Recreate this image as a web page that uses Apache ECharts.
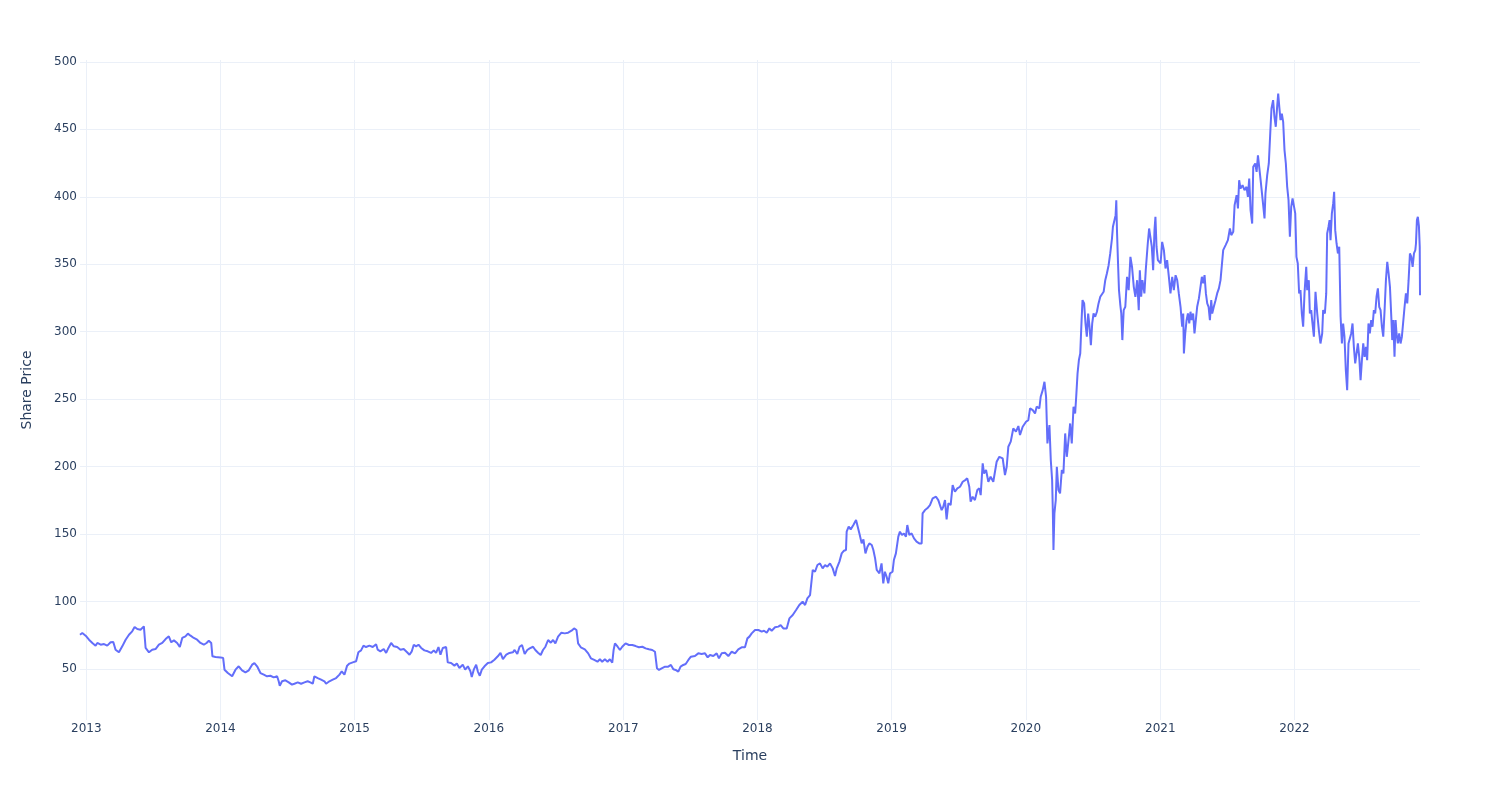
<!DOCTYPE html>
<html><head><meta charset="utf-8">
<script src="https://cdn.jsdelivr.net/npm/echarts@6/dist/echarts.min.js"></script>
<style>html,body{margin:0;padding:0;background:#fff}#chart{width:1500px;height:800px}</style>
</head><body><div id="chart"></div>
<script>
// Dates as decimal years, prices
const timeA = [2012.953,2012.970,2012.995,2013.020,2013.045,2013.069,2013.082,2013.107,2013.132,2013.156,2013.181,2013.201,2013.218,2013.243,2013.268,2013.293,2013.318,2013.342,2013.360,2013.380,2013.404,2013.429,2013.437,2013.442,2013.467,2013.491,2013.516,2013.541,2013.566,2013.591,2013.615,2013.633,2013.653,2013.677,2013.697,2013.715,2013.739,2013.757,2013.777,2013.801,2013.826,2013.851,2013.876,2013.896,2013.913,2013.931,2013.940,2013.963,2014.000,2014.020,2014.030,2014.055,2014.087,2014.112,2014.136,2014.161,2014.186,2014.211,2014.236,2014.253,2014.273,2014.298,2014.323,2014.347,2014.372,2014.397,2014.422,2014.434,2014.442,2014.459,2014.484,2014.509,2014.533,
2014.551,2014.576,2014.601,2014.626,2014.650,2014.670,2014.688,2014.700,2014.725,2014.750,2014.775,2014.787,2014.812,2014.837,2014.862,2014.887,2014.904,2014.924,2014.944,2014.961,2014.986,2015.011,2015.028,2015.048,2015.066,2015.085,2015.110,2015.135,2015.160,2015.172,2015.192,2015.217,2015.235,2015.252,2015.272,2015.292,2015.317,2015.342,2015.366,2015.391,2015.409,2015.426,2015.441,2015.458,2015.476,2015.496,2015.520,2015.545,2015.570,2015.590,2015.607,2015.625,2015.640,2015.657,2015.682,2015.694,2015.719,2015.744,2015.762,2015.781,2015.806,2015.824,2015.844,2015.863,2015.873,2015.888,2015.906,2015.918,2015.933,2015.948,2015.968,2015.993,2016.017,2016.042,2016.067,2016.087,2016.105,2016.130,2016.154,2016.179,
2016.192,2016.212,2016.229,2016.247,2016.267,2016.286,2016.304,2016.329,2016.346,2016.366,2016.386,2016.403,2016.421,2016.441,2016.461,2016.478,2016.495,2016.515,2016.540,2016.565,2016.590,2016.615,2016.634,2016.652,2016.664,2016.684,2016.714,2016.739,2016.759,2016.784,2016.808,2016.826,2016.843,2016.863,2016.883,2016.900,2016.918,2016.928,2016.938,2016.958,2016.975,2016.992];
const priceA = [75.4,76.7,74.7,71.7,69.3,67.3,69.3,68.0,68.5,67.3,69.8,70.0,64.3,62.4,66.8,71.7,75.4,77.9,81.1,79.6,79.1,81.6,82.3,65.6,62.4,64.3,64.8,68.0,69.3,72.2,74.2,69.8,71.2,69.3,66.3,73.0,74.2,76.2,74.7,73.0,71.7,69.3,68.0,69.3,71.0,69.3,59.4,58.9,58.6,58.1,49.5,47.0,44.6,49.5,52.0,49.0,47.5,49.0,53.2,54.4,52.0,47.0,45.8,44.6,45.0,43.8,44.6,40.9,37.6,40.9,41.6,40.1,38.4,
39.1,40.1,39.1,40.1,40.9,40.1,39.1,44.6,43.3,42.1,40.9,39.1,40.9,42.1,43.3,45.8,48.3,45.8,52.5,54.0,54.9,55.7,62.4,63.8,67.3,66.3,67.3,66.3,68.3,64.3,63.1,64.8,61.9,65.6,69.3,66.8,66.3,64.3,64.8,62.4,60.6,63.1,68.0,66.8,68.0,65.6,63.8,63.1,61.9,63.8,61.9,66.3,60.6,65.6,66.3,54.9,54.4,52.5,54.0,50.7,53.2,49.5,52.0,48.3,44.1,49.5,53.2,48.3,45.0,49.5,52.0,54.4,54.9,56.9,59.4,61.9,57.4,60.6,61.9,62.4,
64.1,61.1,66.5,67.8,61.1,64.1,65.3,66.5,64.1,62.1,60.4,64.1,66.5,71.5,69.5,71.5,69.0,74.0,76.9,76.4,76.9,78.4,80.1,78.9,69.0,66.1,64.6,61.6,57.9,56.7,55.4,57.2,55.4,57.2,55.4,57.2,54.7,64.1,69.0,66.5,64.1,66.5];

const timeB = [2017.017,2017.042,2017.067,2017.092,2017.117,2017.142,2017.166,2017.191,2017.216,2017.236,2017.246,2017.251,2017.266,2017.286,2017.311,2017.335,2017.355,2017.373,2017.390,2017.410,2017.427,2017.447,2017.465,2017.485,2017.504,2017.534,2017.559,2017.584,2017.609,2017.629,2017.646,2017.671,2017.696,2017.713,2017.733,2017.758,2017.783,2017.808,2017.833,2017.857,2017.882,2017.907,
2017.925,2017.940,2017.957,2017.982,2018.007,2018.032,2018.049,2018.069,2018.089,2018.106,2018.131,2018.156,2018.173,2018.193,2018.218,2018.230,2018.238,2018.263,2018.288,2018.312,2018.337,2018.355,2018.372,2018.392,2018.404,2018.412,2018.429,2018.447,2018.466,2018.486,2018.504,2018.521,2018.541,2018.561,2018.578,2018.591,2018.611,2018.628,2018.645,2018.660,2018.665,2018.680,2018.695,2018.715,2018.735,2018.745,2018.760,2018.777,2018.790,2018.805,2018.820,2018.834,2018.852,2018.864,2018.877,2018.889,2018.909,
2018.925,2018.938,2018.950,2018.963,2018.975,2018.988,2019.007,2019.017,2019.032,2019.050,2019.062,2019.077,2019.092,2019.107,2019.117,2019.132,2019.149,2019.167,2019.186,2019.206,2019.224,2019.231,2019.249,2019.266,2019.286,2019.306,2019.331,2019.348,2019.360,2019.373,2019.385,2019.398,2019.410,2019.423,2019.440,2019.455,2019.472,2019.490,2019.510,2019.530,2019.549,2019.564,2019.579,2019.589,2019.604,2019.621,2019.639,2019.654,2019.664,2019.679,2019.689,2019.704,2019.721,2019.738,2019.758,2019.771,2019.783,2019.803,
2019.828,2019.845,2019.858,2019.870,2019.888,2019.907,2019.927,2019.945,2019.957,2019.977];
const priceB = [69.0,67.8,67.8,67.0,66.1,66.5,65.3,64.6,64.1,62.8,62.8,50.5,49.3,50.5,51.7,51.7,53.0,49.8,49.3,48.0,51.7,53.0,53.7,56.7,59.1,59.6,61.6,61.1,61.6,58.6,60.4,59.6,61.6,57.9,61.6,62.1,59.6,62.8,61.6,64.6,66.1,66.1,
72.7,74.0,76.4,78.9,78.9,77.7,78.4,76.9,80.1,78.4,80.9,81.4,82.6,80.1,80.1,78.9,87.5,90.0,93.7,97.4,99.9,97.4,102.4,104.8,104.8,123.4,122.1,127.1,128.3,124.6,127.1,125.8,128.3,124.6,118.9,124.6,129.6,135.7,137.7,138.2,151.8,155.5,153.5,156.7,160.4,161.6,150.5,143.1,146.1,135.7,140.6,143.1,141.9,138.2,132.0,123.4,120.9,
128.3,113.5,122.1,118.4,113.5,120.9,122.1,130.8,135.7,148.1,151.8,149.3,150.5,148.1,156.7,149.3,150.5,146.8,144.4,143.1,143.1,165.3,167.8,169.1,171.5,176.5,177.7,175.2,176.5,167.8,170.3,175.2,160.9,172.8,171.5,186.3,181.4,183.9,185.1,188.8,190.0,191.3,185.1,174.0,177.7,175.2,182.6,183.9,178.9,202.4,195.0,197.5,188.8,192.5,188.8,190.0,203.6,207.3,
206.1,193.8,199.9,214.7,218.5,228.3,225.9,230.1,223.4,229.6];

const timeC = [2020.002,2020.019,2020.032,2020.052,2020.069,2020.081,2020.101,2020.111,2020.126,2020.139,2020.151,2020.161,2020.176,2020.186,2020.196,2020.201,2020.206,2020.213,2020.223,2020.231,2020.243,2020.255,2020.268,2020.280,2020.293,2020.305,2020.318,2020.330,2020.342,2020.355,2020.367,2020.375,2020.385,2020.395,2020.405,2020.415,2020.422,2020.434,2020.444,2020.454,2020.464,2020.474,2020.484,2020.494,2020.504,2020.516,2020.529,2020.541,2020.554,2020.566,2020.579,2020.591,2020.603,2020.616,2020.628,2020.641,2020.648,2020.658,2020.668,2020.673,2020.678,2020.686,2020.693,2020.703,2020.710,2020.718,2020.728,2020.740,2020.753,2020.765,
2020.778,2020.790,2020.803,2020.815,2020.828,2020.840,2020.848,2020.858,2020.867,2020.882,2020.892,2020.907,2020.917,2020.927,2020.937,2020.947,2020.957,2020.964,2020.972,2020.982,2020.992,2021.002,2021.014,2021.027,2021.039,2021.051,2021.064,2021.076,2021.089,2021.101,2021.114,2021.126,2021.138,2021.151,2021.163,2021.171,2021.176,2021.186,2021.196,2021.206,2021.216,2021.225,2021.235,2021.245,2021.255,2021.265,2021.275,2021.288,2021.300,2021.310,2021.320,2021.330,2021.340,2021.350,2021.360,2021.370,2021.380,2021.387,2021.399,2021.412,2021.424,2021.437,2021.449,
2021.469,2021.487,2021.504,2021.519,2021.529,2021.544,2021.554,2021.569,2021.579,2021.588,2021.598,2021.613,2021.628,2021.643,2021.653,2021.663,2021.673,2021.685,2021.693,2021.708,2021.718,2021.728,2021.738,2021.748,
2021.767,2021.777,2021.784,2021.797,2021.809,2021.822,2021.829,2021.841,2021.851,2021.861,2021.871,2021.879,2021.886,2021.896,2021.906,2021.916,2021.926,2021.936,2021.946,2021.956,2021.966,2021.976,2021.986,2021.996,2022.006,2022.015,2022.025,2022.035,2022.045,2022.055,2022.065,2022.075,2022.088,2022.095,2022.107,2022.115,2022.125,2022.132,2022.145,2022.157,2022.170,2022.182,2022.194,2022.207,2022.214,2022.227,2022.237,2022.244,2022.254,2022.262,2022.269,2022.279,2022.289,2022.296,2022.304,2022.314,2022.324,2022.334,2022.344,2022.354,2022.363,2022.373,2022.383,2022.393,2022.403,2022.413,2022.423,2022.433,2022.443,2022.453,2022.463,2022.473,2022.483,2022.493,2022.503,2022.513,2022.523,2022.533,2022.542,2022.552,2022.562,2022.572,2022.582,2022.592,2022.602,2022.612,2022.622,2022.632,2022.642,2022.652,2022.662,2022.672,2022.682,2022.692,2022.702,2022.712,2022.722,2022.729,2022.737,2022.746,2022.754,2022.761,2022.771,2022.781,2022.791,2022.801,2022.811,2022.821,2022.831,2022.841,2022.851,2022.861,2022.871,2022.881,2022.891,2022.901,2022.906,2022.913,2022.920,2022.928,2022.934,2022.936];
const priceC = [233.3,234.5,243.2,241.9,239.4,244.4,243.2,251.8,256.7,262.9,251.8,217.2,230.8,204.9,190.0,167.8,138.2,165.3,175.2,199.9,182.6,180.2,197.5,195.0,224.6,207.3,219.7,232.0,217.2,244.4,239.4,251.8,269.1,279.0,283.9,308.6,323.4,321.0,306.1,296.3,313.5,303.7,290.1,306.1,313.5,311.1,314.8,321.0,325.9,327.1,329.6,338.2,343.2,349.3,358.0,369.1,377.8,379.0,386.4,397.5,375.3,350.6,330.8,319.7,313.5,293.8,316.0,318.5,340.7,330.8,
355.5,348.1,333.3,325.9,338.2,316.0,345.6,325.9,338.2,328.4,345.6,365.4,376.5,375.3,363.0,345.6,375.3,385.2,363.0,353.1,351.8,350.6,366.6,360.5,346.9,353.1,340.7,328.4,340.7,330.8,341.9,338.2,328.4,318.5,303.7,313.5,283.9,298.7,308.6,313.5,306.1,314.8,308.6,313.5,298.7,308.6,318.5,324.7,325.9,340.7,335.8,341.9,328.4,321.0,318.5,308.6,323.4,313.5,318.5,323.4,328.4,332.1,338.2,
360.5,364.2,367.9,376.5,371.6,374.1,393.8,401.2,391.4,412.3,406.1,408.6,404.9,407.4,400.0,413.5,390.2,380.2,422.2,424.7,418.5,430.8,429.6,412.3,
393.8,383.9,402.5,416.0,424.7,451.9,465.5,471.6,459.3,451.9,466.7,476.6,467.9,456.8,461.7,455.6,434.6,424.7,407.4,397.5,370.4,392.6,398.8,397.5,387.7,355.5,350.6,328.4,330.8,313.5,303.7,328.4,348.1,330.8,338.2,313.5,316.0,308.6,296.3,329.6,313.5,301.2,291.3,298.7,316.0,313.5,328.4,372.8,377.8,382.7,367.9,387.7,395.1,403.7,375.3,365.4,358.0,363.0,311.1,291.3,306.1,296.3,271.6,256.7,291.3,291.3,298.7,306.1,288.8,276.5,283.9,291.3,281.4,264.1,278.9,291.3,281.4,288.8,278.9,306.1,298.7,308.6,303.7,316.0,313.5,325.9,332.1,318.5,316.0,303.7,296.3,316.0,338.2,351.8,343.2,333.3,311.1,293.8,308.6,281.4,308.6,298.7,291.3,298.7,291.3,296.3,296.3,318.5,328.4,321.0,338.2,358.0,355.5,348.1,358.0,360.5,365.4,382.7,385.2,378.2,363.0,327.0];

const xTitle = 'Time';
const yTitle = 'Share Price';
const yMin = 12.2, yMax = 501.4;

function toTs(y) {
  const yr = Math.floor(y);
  const s = Date.UTC(yr, 0, 1), e = Date.UTC(yr + 1, 0, 1);
  return s + (y - yr) * (e - s);
}
const times = timeA.concat(timeB, timeC);
const prices = priceA.concat(priceB, priceC);
const seriesData = times.map((t, i) => [toTs(t), prices[i]]);

const textColor = '#2a3f5f';
const gridColor = '#ebf0f8';
const font = 'DejaVu Sans, Verdana, Arial, sans-serif';
const DAY = 86400000;

const chart = echarts.init(document.getElementById('chart'), null, {renderer: 'canvas'});
chart.setOption({
  animation: false,
  backgroundColor: '#ffffff',
  grid: {left: 80, right: 80, top: 60, bottom: 80, containLabel: false},
  xAxis: {
    type: 'time',
    min: toTs(times[0]),
    max: toTs(times[times.length - 1]),
    splitNumber: 10,
    minInterval: 365 * DAY,
    maxInterval: 366 * DAY,
    axisLine: {show: false},
    axisTick: {show: false},
    axisLabel: {formatter: '{yyyy}', color: textColor, fontSize: 12, fontFamily: font, margin: 3,
      showMinLabel: false, showMaxLabel: false},
    splitLine: {show: true, lineStyle: {color: gridColor, width: 1}, showMinLine: false, showMaxLine: false},
    name: xTitle, nameLocation: 'middle', nameGap: 29,
    nameTextStyle: {color: textColor, fontSize: 14, fontFamily: font}
  },
  yAxis: {
    type: 'value',
    min: yMin, max: yMax,
    splitNumber: 10,
    axisLine: {show: false},
    axisTick: {show: false},
    axisLabel: {color: textColor, fontSize: 12, fontFamily: font, margin: 3,
      showMinLabel: false, showMaxLabel: false},
    splitLine: {show: true, lineStyle: {color: gridColor, width: 1}, showMinLine: false, showMaxLine: false},
    name: yTitle, nameLocation: 'middle', nameGap: 46, nameRotate: 90,
    nameTextStyle: {color: textColor, fontSize: 14, fontFamily: font}
  },
  series: [{
    type: 'line',
    data: seriesData,
    showSymbol: false,
    symbol: 'none',
    lineStyle: {color: '#636efa', width: 2},
    itemStyle: {color: '#636efa'},
    emphasis: {disabled: true}
  }]
});
</script></body></html>
